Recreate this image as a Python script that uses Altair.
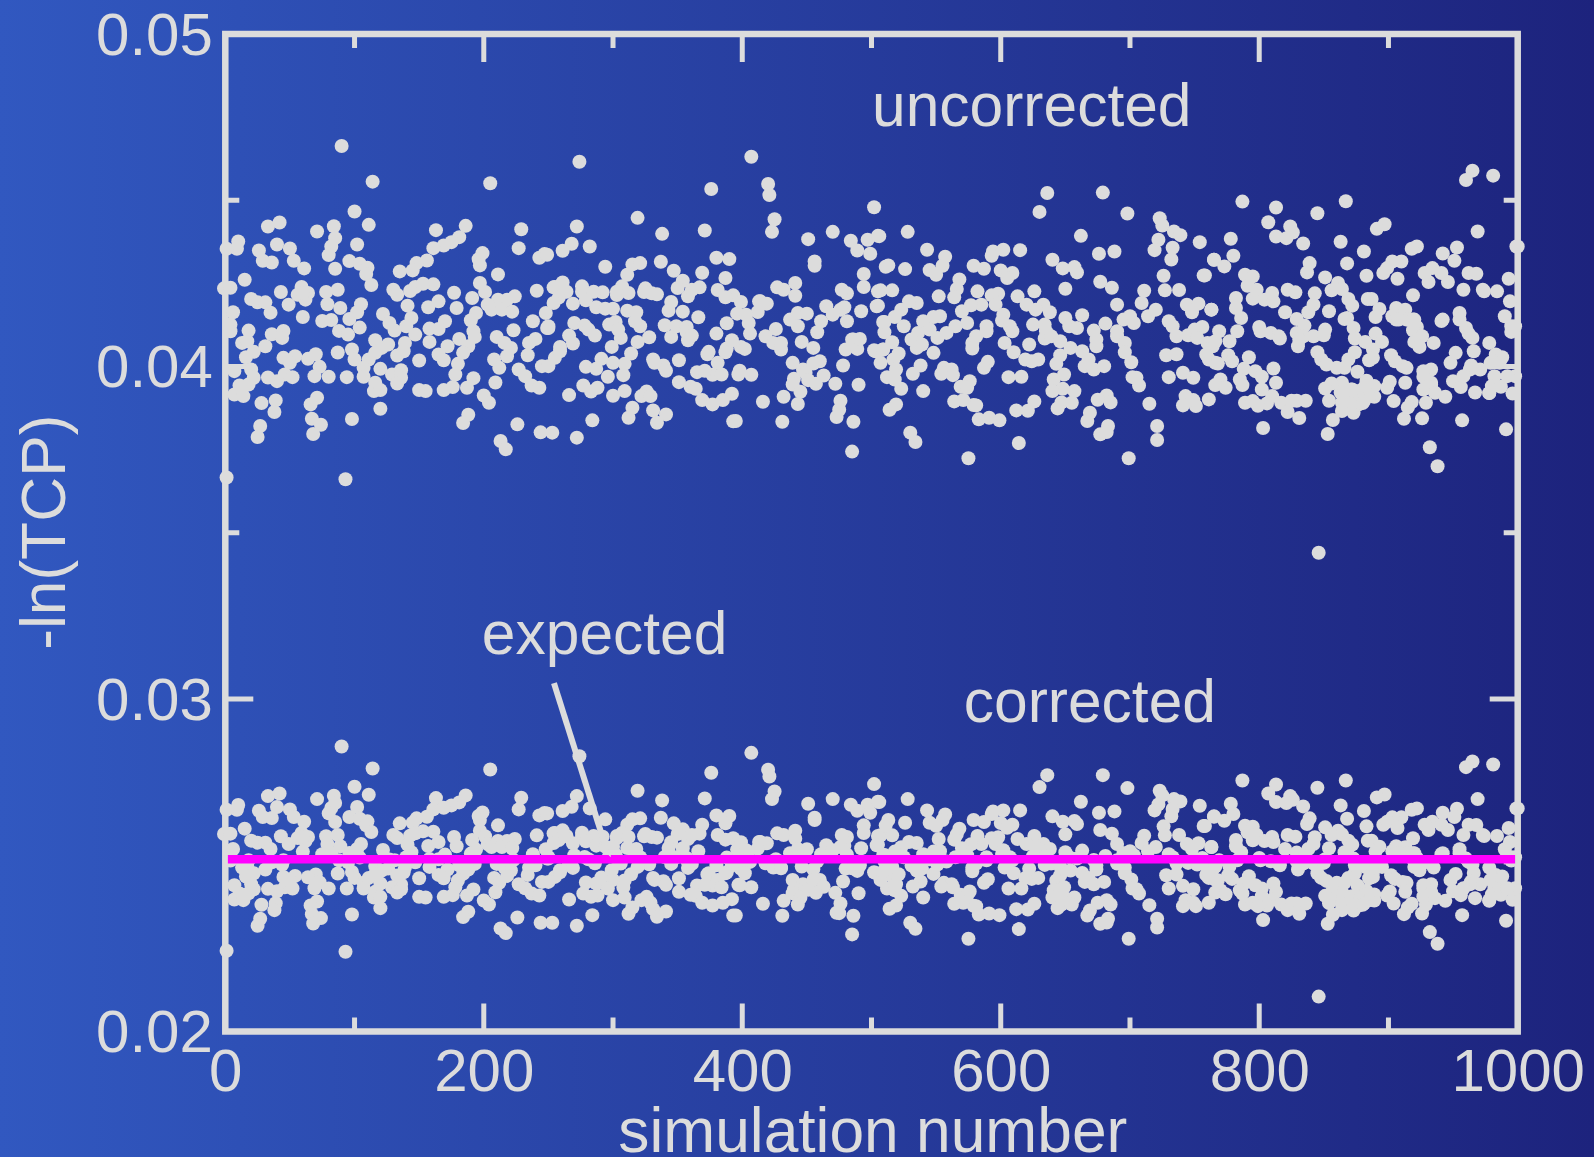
import altair as alt
import pandas as pd

# (simulation number, uncorrected, corrected), -ln(TCP) in units of 1e-5
sims_0_250 = [
(90,4663,2857),(114,4556,2791),(205,4551,2788),(100,4466,2736),(111,4426,2712),(42,4433,2716),(33,4421,2708),(71,4406,2699),
(84,4422,2709),(85,4386,2687),(82,4361,2672),(80,4335,2656),(10,4376,2681),(9,4354,2667),(1,4354,2667),(26,4349,2664),(29,4318,2645),
(36,4313,2642),(40,4367,2675),(50,4355,2668),(53,4318,2645),(61,4295,2631),(85,4294,2630),(102,4367,2675),(96,4317,2645),(104,4309,2640),
(110,4297,2632),(109,4278,2620),(113,4245,2600),(15,4261,2610),(-1,4235,2594),(4,4237,2595),(43,4224,2587),(59,4239,2597),(56,4216,2582),
(64,4221,2585),(62,4201,2573),(60,4221,2585),(78,4224,2587),(87,4231,2591),(79,4187,2564),(49,4186,2564),(20,4203,2574),(25,4193,2568),
(31,4193,2568),(35,4162,2549),(6,4163,2549),(4,4126,2527),(4,4106,2514),(18,4108,2515),(89,4176,2557),(105,4187,2564),(102,4163,2549),
(96,4143,2537),(60,4149,2541),(75,4137,2533),(82,4140,2535),(104,4117,2523),(88,4107,2515),(95,4096,2509),(36,4097,2509),(45,4107,2515),
(44,4086,2502),(13,4071,2493),(17,4076,2496),(31,4061,2487),(22,4044,2476),(16,4028,2466),(87,4042,2475),(98,4051,2480),(100,4021,2462),
(116,4079,2498),(126,4066,2490),(121,4056,2484),(116,4041,2474),(111,4021,2462),(107,3996,2447),(107,3969,2430),(45,4026,2465),(54,4031,2468),
(50,4011,2456),(70,4037,2472),(64,4023,2464),(73,3999,2448),(69,3971,2431),(80,3969,2430),(94,3968,2430),(46,3976,2434),(52,3968,2430),
(40,3956,2422),(33,3967,2429),(20,3991,2443),(22,3966,2428),(18,3946,2416),(11,3943,2415),(7,3916,2397),(14,3911,2395),(7,3986,2440),
(120,3993,2445),(116,3951,2420),(115,3926,2403),(120,3929,2405),(129,3976,2434),(136,3989,2442),(136,3966,2428),(133,3949,2418),(71,3906,2391),
(66,3886,2379),(39,3898,2386),(28,3890,2381),(38,3863,2365),(120,3873,2371),(67,3843,2353),(74,3825,2341),(98,3842,2352),(27,3821,2339),
(25,3788,2318),(68,3797,2325),(1,3666,2243),(93,3661,2240),
(163,4410,2702),(186,4423,2710),(181,4389,2689),(175,4374,2680),(169,4364,2673),(161,4356,2668),(229,4413,2703),(227,4356,2668),(199,4341,2659),
(196,4323,2648),(197,4304,2636),(247,4338,2657),(243,4327,2650),(156,4319,2646),(148,4311,2641),(145,4289,2628),(135,4286,2626),(211,4277,2620),
(197,4251,2604),(201,4224,2587),(161,4247,2601),(153,4249,2602),(147,4239,2596),(143,4227,2589),(130,4231,2591),(133,4216,2582),(177,4222,2585),
(191,4206,2576),(165,4196,2570),(157,4178,2558),(179,4176,2557),(224,4211,2579),(218,4201,2573),(211,4201,2573),(203,4186,2564),(206,4171,2555),
(214,4171,2555),(222,4165,2551),(241,4228,2590),(254,4238,2596),(141,4183,2562),(194,4161,2547),(190,4139,2535),(192,4106,2514),(144,4146,2539),
(140,4121,2524),(122,4158,2546),(127,4131,2517),(131,4108,2515),(147,4096,2509),(170,4136,2532),(165,4113,2518),(158,4114,2519),(158,4074,2495),
(238,4136,2533),(223,4109,2516),(248,4161,2548),(249,4116,2520),(250,4116,2520),(210,4089,2504),(216,4071,2493),(221,4056,2484),(240,4083,2500),
(235,4071,2493),(193,4089,2504),(181,4083,2500),(188,4061,2487),(172,4061,2487),(165,4036,2471),(169,4019,2461),(184,4041,2474),(180,4008,2454),
(178,3976,2434),(218,4031,2468),(208,4021,2462),(212,3996,2447),(227,3991,2443),(232,3971,2431),(234,4034,2471),(245,4001,2450),(255,4026,2465),
(150,4018,2461),(139,4071,2493),(138,4046,2479),(133,4033,2469),(192,3965,2427),(209,3952,2419),(150,3929,2405),(155,3926,2403),(169,3929,2405),
(176,3938,2410),(187,3936,2409),(237,3943,2415),(243,3936,2409),(200,3913,2394),(204,3891,2382),(188,3855,2360),(184,3830,2344),(226,3826,2343),
(253,3801,2327),(213,3776,2310),(217,3751,2296)]
sims_250_500 = [
(274,4616,2828),(407,4631,2838),(376,4534,2778),(420,4549,2787),(421,4516,2767),(502,4479,2744),(319,4447,2724),(425,4443,2722),(423,4405,2699),
(272,4421,2708),(338,4399,2695),(371,4409,2701),(451,4383,2685),(470,4405,2699),(268,4369,2676),(261,4348,2663),(282,4361,2671),(249,4336,2656),
(484,4378,2682),(489,4349,2664),(497,4381,2682),(505,4393,2691),(499,4339,2658),(380,4327,2650),(390,4323,2648),(337,4315,2643),(456,4316,2643),
(456,4303,2636),(294,4300,2638),(315,4307,2638),(321,4311,2641),(311,4276,2622),(347,4288,2626),(369,4282,2622),(387,4266,2626),(494,4278,2620),
(511,4300,2620),(261,4253,2605),(255,4239,2597),(264,4225,2588),(276,4241,2598),(292,4223,2586),(307,4241,2597),(303,4215,2582),(325,4235,2594),
(330,4220,2585),(427,4238,2596),(432,4231,2591),(441,4251,2604),(505,4226,2588),(494,4239,2597),(481,4220,2585),(354,4258,2608),(350,4236,2594),
(367,4238,2595),(358,4211,2579),(361,4231,2591),(381,4230,2591),(393,4214,2581),(477,4231,2591),(441,4213,2580),(387,4208,2577),(413,4196,2570),
(262,4225,2588),(258,4207,2576),(276,4225,2588),(285,4225,2588),(303,4225,2588),(312,4221,2585),(324,4224,2587),(334,4217,2583),(345,4194,2569),
(254,4191,2567),(279,4199,2572),(269,4189,2566),(399,4194,2569),(414,4196,2570),(419,4189,2566),(412,4164,2550),(465,4181,2560),(479,4178,2559),
(476,4171,2555),(504,4181,2560),(492,4166,2551),(287,4178,2559),(294,4174,2556),(300,4174,2556),(311,4168,2552),(318,4163,2549),(343,4168,2552),
(354,4165,2551),(396,4159,2547),(403,4156,2545),(366,4148,2542),(250,4121,2524),(437,4141,2536),(443,4161,2549),(450,4159,2548),(461,4136,2533),
(443,4121,2525),(481,4136,2532),(470,4156,2545),(509,4134,2531),(340,4124,2525),(349,4121,2524),(357,4119,2522),(388,4130,2523),(405,4131,2523),
(426,4113,2518),(270,4131,2530),(278,4123,2525),(297,4126,2527),(302,4134,2532),(321,4121,2524),(317,4136,2533),(286,4093,2506),(281,4111,2518),
(306,4086,2505),(304,4111,2515),(266,4093,2506),(328,4088,2503),(319,4074,2495),(345,4089,2504),(358,4079,2492),(357,4103,2516),(406,4099,2510),
(399,4059,2489),(388,4054,2479),(361,4093,2504),(380,4099,2500),(392,4079,2500),(418,4091,2506),(424,4071,2493),(430,4071,2493),(458,4103,2512),
(446,4074,2496),(430,4051,2491),(485,4081,2491),(455,4056,2488),(480,4051,2490),(489,4053,2483),(486,4081,2496),(491,4083,2500),(516,4073,2496),
(269,4069,2492),(259,4059,2485),(299,4059,2485),(314,4039,2473),(259,4046,2479),(374,4044,2476),(373,4037,2472),(387,4043,2476),(402,4053,2476),
(502,4049,2479),(509,4051,2480),(291,4023,2463),(331,4021,2462),(339,4003,2452),(332,4011,2456),(279,3999,2448),(287,3993,2445),(309,4008,2454),
(300,4011,2456),(250,4001,2450),(381,4011,2456),(397,3976,2441),(407,3975,2434),(398,3987,2440),(351,4019,2461),(439,4011,2456),(478,4003,2451),
(447,3991,2443),(460,4016,2456),(440,3963,2427),(449,3981,2436),(451,3959,2426),(455,4009,2456),(463,3973,2435),(296,3969,2430),(308,3974,2433),
(341,3987,2441),(365,3983,2439),(377,3975,2439),(384,3976,2434),(371,3987,2441),(288,3936,2409),(283,3925,2405),(326,3925,2405),(322,3911,2395),
(277,3943,2415),(309,3926,2403),(300,3912,2395),(266,3914,2397),(351,3953,2420),(360,3939,2411),(364,3933,2408),(439,3946,2416),(445,3924,2402),
(457,3948,2417),(472,3948,2417),(490,3945,2416),(329,3911,2387),(369,3899,2387),(377,3886,2379),(385,3899,2387),(392,3918,2398),(416,3894,2384),
(432,3909,2393),(443,3887,2382),(476,3897,2385),(475,3870,2356),(315,3876,2373),(312,3846,2354),(331,3868,2368),(341,3856,2361),(334,3831,2345),
(284,3838,2350),(395,3836,2349),(431,3834,2348),(473,3848,2357),(393,3835,2349),(486,3834,2348),(244,3802,2327),(272,3786,2318),(485,3744,2292)]
sims_500_750 = [
(636,4522,2771),(679,4523,2771),(630,4465,2735),(698,4460,2732),(723,4446,2724),(725,4424,2710),(734,4406,2699),(739,4395,2692),(528,4405,2699),
(506,4392,2690),(662,4393,2691),(722,4381,2683),(719,4350,2665),(733,4357,2669),(732,4322,2647),(754,4374,2679),(543,4351,2665),(557,4330,2653),
(594,4346,2662),(602,4351,2665),(615,4350,2665),(593,4333,2654),(676,4339,2658),(688,4346,2662),(765,4321,2647),(513,4304,2636),(526,4293,2628),
(545,4290,2628),(555,4303,2636),(550,4276,2619),(579,4303,2636),(587,4294,2630),(640,4321,2647),(648,4295,2631),(657,4299,2633),(659,4283,2624),
(600,4289,2627),(609,4281,2622),(605,4266,2613),(757,4274,2618),(726,4273,2617),(568,4262,2610),(566,4233,2593),(677,4255,2606),(686,4237,2595),
(650,4234,2593),(727,4229,2590),(738,4230,2591),(711,4228,2589),(507,4229,2590),(516,4229,2590),(552,4211,2579),(564,4208,2577),(582,4226,2588),
(598,4219,2584),(593,4214,2581),(596,4186,2564),(613,4211,2579),(626,4226,2588),(535,4191,2567),(529,4196,2570),(523,4171,2554),(505,4183,2562),
(620,4186,2564),(633,4186,2564),(627,4171,2555),(638,4163,2549),(690,4186,2564),(709,4191,2567),(720,4171,2555),(714,4151,2542),(744,4186,2564),
(753,4189,2566),(748,4163,2549),(763,4171,2555),(585,4186,2564),(577,4184,2563),(570,4166,2551),(553,4151,2542),(548,4149,2541),(602,4156,2545),
(601,4138,2534),(663,4154,2544),(650,4146,2539),(653,4121,2524),(659,4116,2520),(634,4126,2527),(681,4129,2528),(672,4108,2516),(700,4151,2542),
(695,4141,2536),(730,4136,2533),(733,4121,2524),(510,4134,2531),(518,4149,2541),(510,4103,2512),(525,4121,2524),(540,4136,2533),(565,4121,2524),
(558,4101,2511),(574,4131,2530),(589,4121,2524),(607,4121,2524),(609,4106,2515),(625,4126,2527),(635,4106,2515),(690,4106,2515),(703,4131,2530),
(756,4119,2522),(750,4111,2518),(745,4094,2507),(589,4106,2515),(581,4091,2505),(578,4071,2493),(578,4054,2482),(536,4101,2511),(531,4081,2499),
(551,4086,2502),(545,4111,2518),(539,4066,2490),(548,4041,2474),(535,4056,2484),(603,4071,2493),(610,4043,2476),(622,4066,2490),(634,4084,2501),
(639,4091,2505),(646,4076,2496),(654,4056,2484),(674,4081,2499),(674,4061,2487),(690,4091,2505),(696,4071,2493),(696,4043,2476),(736,4091,2505),
(760,4071,2493),(752,4086,2502),(764,4061,2487),(509,4051,2480),(503,4046,2477),(521,4039,2473),(517,4021,2462),(507,4011,2456),(663,4046,2477),
(668,4021,2462),(728,4034,2470),(736,4037,2472),(629,4021,2462),(624,4016,2459),(619,4021,2462),(646,4034,2470),(643,4008,2454),(761,4021,2462),
(766,4011,2456),(701,4013,2457),(590,4014,2458),(587,3996,2447),(538,4003,2451),(532,3978,2436),(519,3991,2443),(512,3968,2430),(518,3961,2425),
(556,3996,2447),(562,3991,2443),(554,3978,2436),(563,3974,2434),(665,4001,2450),(672,3991,2443),(680,4001,2450),(616,3969,2430),(606,3968,2430),
(649,3976,2434),(641,3961,2425),(705,3966,2428),(741,3981,2438),(749,3966,2428),(576,3956,2421),(569,3939,2411),(523,3933,2408),(540,3926,2403),
(648,3933,2408),(657,3926,2403),(702,3968,2430),(707,3943,2415),(730,3968,2430),(574,3936,2409),(640,3926,2403),(682,3913,2395),(685,3892,2382),
(743,3911,2395),(751,3881,2377),(571,3899,2387),(579,3884,2378),(647,3892,2382),(581,3883,2377),(655,3891,2382),(749,3899,2387),(741,3883,2377),
(564,3895,2384),(626,3895,2384),(675,3900,2387),(715,3888,2380),(519,3886,2379),(514,3870,2369),(644,3874,2371),(612,3868,2368),(621,3867,2367),
(669,3861,2364),(667,3836,2349),(583,3841,2352),(591,3846,2355),(599,3838,2350),(683,3821,2339),(677,3796,2324),(682,3803,2328),(721,3821,2339),
(721,3779,2313),(530,3801,2327),(534,3773,2309),(614,3770,2308),(575,3724,2279),(699,3724,2279)]
sims_750_1000 = [
(965,4589,2812),(960,4561,2795),(981,4574,2803),(787,4496,2755),(867,4497,2755),(813,4478,2743),(845,4461,2733),(807,4434,2716),(824,4421,2708),
(826,4403,2697),(813,4391,2690),(821,4386,2687),(834,4370,2677),(897,4428,2713),(891,4414,2704),(969,4406,2699),(778,4384,2685),(863,4375,2680),
(922,4361,2671),(918,4354,2667),(953,4358,2670),(999,4361,2671),(780,4333,2654),(765,4321,2646),(773,4301,2634),(942,4340,2658),(951,4318,2645),
(881,4346,2663),(839,4311,2641),(837,4283,2624),(868,4310,2640),(910,4316,2644),(903,4316,2644),(896,4281,2622),(899,4296,2631),(789,4276,2619),
(795,4271,2616),(791,4243,2599),(798,4231,2591),(851,4268,2614),(861,4251,2604),(856,4229,2591),(864,4233,2593),(883,4273,2617),(907,4264,2612),
(934,4296,2631),(928,4281,2622),(941,4281,2622),(931,4254,2606),(946,4254,2606),(962,4281,2622),(968,4279,2621),(993,4264,2612),(758,4274,2618),
(782,4206,2576),(795,4204,2575),(804,4201,2573),(810,4221,2585),(811,4196,2570),(822,4231,2591),(828,4223,2586),(843,4220,2584),(919,4214,2581),
(958,4231,2591),(973,4231,2591),(974,4226,2588),(984,4226,2588),(994,4196,2570),(869,4203,2574),(884,4203,2574),(782,4176,2557),(842,4186,2564),
(838,4163,2549),(854,4166,2551),(820,4163,2549),(786,4146,2539),(763,4171,2555),(887,4203,2574),(906,4176,2557),(913,4171,2554),(872,4183,2562),
(893,4173,2556),(866,4143,2539),(868,4146,2539),(920,4141,2536),(915,4141,2536),(903,4151,2542),(890,4149,2541),(906,4141,2537),(914,4141,2536),
(955,4161,2548),(922,4119,2522),(941,4137,2533),(908,4141,2536),(919,4141,2536),(942,4141,2536),(955,4141,2536),(990,4151,2548),(995,4121,2524),
(960,4116,2520),(998,4121,2524),(829,4143,2538),(835,4123,2526),(829,4101,2512),(769,4106,2515),(783,4106,2515),(800,4119,2522),(801,4106,2515),
(809,4101,2512),(815,4091,2505),(851,4111,2518),(766,4076,2496),(777,4076,2496),(816,4084,2500),(834,4091,2505),(873,4116,2520),(890,4099,2510),
(882,4074,2495),(874,4084,2500),(895,4074,2495),(919,4109,2518),(926,4091,2505),(935,4071,2493),(962,4099,2510),(965,4086,2502),(978,4071,2493),
(995,4104,2514),(920,4074,2495),(924,4059,2485),(831,4081,2499),(830,4061,2487),(842,4091,2505),(850,4094,2507),(888,4051,2480),(888,4026,2465),
(885,4019,2461),(845,4043,2476),(848,4021,2462),(874,4043,2476),(869,4021,2462),(759,4036,2471),(776,4034,2470),(779,4016,2459),(768,4009,2455),
(792,4028,2467),(902,4034,2470),(905,4016,2459),(911,4001,2450),(914,3996,2447),(952,4041,2474),(966,4046,2477),(983,4036,2471),(988,4028,2466),
(979,4011,2456),(986,4011,2456),(948,4011,2456),(964,4003,2451),(971,3991,2443),(852,4006,2453),(860,3996,2447),(866,3996,2447),(811,3994,2445),
(788,3993,2445),(797,3986,2440),(802,3969,2430),(785,3961,2425),(933,3991,2443),(927,3986,2440),(927,3969,2430),(876,3984,2439),(883,3957,2423),
(889,3941,2412),(933,3951,2420),(864,3951,2420),(901,3954,2421),(913,3951,2420),(933,3946,2416),(963,3991,2443),(982,3971,2431),(980,3941,2412),
(813,3951,2420),(770,3961,2425),(787,3944,2415),(802,3931,2407),(856,3949,2418),(851,3934,2408),(863,3922,2402),(877,3926,2404),(885,3912,2396),
(889,3909,2394),(950,3956,2422),(933,3936,2409),(987,3939,2411),(944,3909,2393),(967,3922,2401),(956,3938,2410),(872,3931,2406),(836,3897,2385),
(810,3911,2396),(806,3889,2379),(817,3891,2382),(829,3897,2385),(899,3936,2409),(996,3919,2396),(929,3891,2382),(918,3893,2384),(927,3931,2406),
(958,3971,2431),(936,3921,2401),(915,3877,2373),(871,3931,2406),(878,3917,2399),(883,3910,2394),(882,3941,2412),(885,3911,2395),(766,3944,2418),
(774,3936,2413),(761,3901,2387),(978,3920,2393),(998,3971,2431),(1000,4361,2671),(978,3920,2395),(992,3971,2431),(873,3861,2364),(854,3897,2386),
(871,3908,2392),(877,3886,2379),(865,3921,2401),(871,3891,2382),(864,3891,2382),(871,3886,2379),(789,3891,2382),(795,3896,2387),(799,3882,2377),
(825,3897,2385),(822,3863,2365),(831,3845,2354),(864,3866,2365),(857,3839,2351),(912,3843,2353),(926,3844,2355),(957,3838,2350),(904,3896,2385),
(881,3896,2385),(880,3890,2381),(803,3815,2335),(991,3811,2333),(853,3797,2324),(932,3757,2299),(938,3700,2264),(846,3440,2105)]
rows = pd.DataFrame(sims_0_250 + sims_500_750 + sims_250_500 + sims_750_1000, columns=["sim", "u", "c"])
rows["u"] /= 1e5
rows["c"] /= 1e5

W, H = 1292.4, 997.5
FG = "#dcdcdc"
FONT = "Liberation Sans"
xs = alt.Scale(domain=[0, 1000], nice=False, zero=False)
ys = alt.Scale(domain=[0.02, 0.05], nice=False, zero=False)

x_major = [0, 200, 400, 600, 800, 1000]
x_minor = [100, 300, 500, 700, 900]
y_major = [0.02, 0.03, 0.04, 0.05]
y_minor = [0.0251, 0.035, 0.045]

xax = alt.Axis(values=x_major, format="d", title="simulation number", domain=False, ticks=False, grid=False,
    labelFontSize=60, labelFont=FONT, labelColor=FG, labelPadding=12, labelFlush=False, labelOverlap=False, zindex=1,
    titleFontSize=62.3, titleFont=FONT, titleColor=FG, titleFontWeight="normal", titleY=119.5, titleX=647, titleAlign="center", titleBaseline="alphabetic")
yax = alt.Axis(values=y_major, format=".2f", title="-ln(TCP)", domain=False, ticks=False, grid=False,
    labelFontSize=60, labelFont=FONT, labelColor=FG, labelPadding=13, labelOffset=2, labelOverlap=False, labelFlush=False, zindex=1,
    titleFontSize=62.3, titleFont=FONT, titleColor=FG, titleFontWeight="normal", titleX=-161, titleY=497.7, titleAlign="center", titleBaseline="alphabetic")

def X(f):
    return alt.X(f, type="quantitative", scale=xs, axis=xax)

def Y(f):
    return alt.Y(f, type="quantitative", scale=ys, axis=yax)

bg = alt.Chart(pd.DataFrame({"a": [0]})).mark_rect(
    color=alt.Gradient(gradient="linear", x1=0, x2=1, y1=0, y2=0,
        stops=[alt.GradientStop(color="#3158c0", offset=0), alt.GradientStop(color="#1d237d", offset=1)])
).encode(x=alt.value(-226), x2=alt.value(1369), y=alt.value(-35), y2=alt.value(1124))

frame = alt.Chart(pd.DataFrame({"x": [0], "x2": [1000], "y": [0.02], "y2": [0.05]})).mark_rect(
    filled=False, stroke=FG, strokeWidth=6.5
).encode(x=X("x"), x2="x2:Q", y=Y("y"), y2="y2:Q")

def xticks(vals, n):
    base = alt.Chart(pd.DataFrame({"x": vals})).mark_rule(color=FG, strokeWidth=5)
    return [base.encode(x=X("x"), y=alt.value(H), y2=alt.value(H - n)),
            base.encode(x=X("x"), y=alt.value(0), y2=alt.value(n))]

def yticks(vals, n):
    base = alt.Chart(pd.DataFrame({"y": vals})).mark_rule(color=FG, strokeWidth=5)
    return [base.encode(y=Y("y"), x=alt.value(0), x2=alt.value(n)),
            base.encode(y=Y("y"), x=alt.value(W), x2=alt.value(W - n))]

ticks = xticks(x_major, 28) + xticks(x_minor, 14) + yticks(y_major, 28) + yticks(y_minor, 14)

pts_u = alt.Chart(rows).mark_circle(color=FG, size=196, opacity=1).encode(x=X("sim"), y=Y("u"))
pts_c = alt.Chart(rows).mark_circle(color=FG, size=196, opacity=1).encode(x=X("sim"), y=Y("c"))

expected = alt.Chart(pd.DataFrame({"x": [2], "x2": [998], "y": [0.02518]})).mark_rule(color="#ff00ff", strokeWidth=8.7).encode(
    x=X("x"), x2="x2:Q", y=Y("y"))

arrow = alt.Chart(pd.DataFrame({"x": [254.3], "x2": [293.5], "y": [0.03048], "y2": [0.02565]})).mark_rule(color=FG, strokeWidth=6).encode(
    x=X("x"), x2="x2:Q", y=Y("y"), y2="y2:Q")
tip = alt.Chart(pd.DataFrame({"x": [295.5], "y": [0.02535]})).mark_point(
    shape="M-1,-1L1,-1L1,1Z", filled=True, color=FG, opacity=1, size=50, strokeWidth=0
).encode(x=X("x"), y=Y("y"))

labels = pd.DataFrame({"t": ["uncorrected", "corrected", "expected"], "x": [500.4, 571.4, 198.5], "y": [0.04723, 0.02931, 0.03135]})
txt = alt.Chart(labels).mark_text(font=FONT, fontSize=60.5, color=FG, align="left", baseline="alphabetic").encode(
    x=X("x"), y=Y("y"), text="t:N")

chart = alt.layer(bg, frame, *ticks, pts_u, pts_c, expected, arrow, tip, txt).properties(
    width=W, height=H, background="transparent",
    padding={"left": 225.3, "top": 34, "right": 76.3, "bottom": 125.5},
    autosize=alt.AutoSizeParams(type="none"),
).configure_view(stroke=None)

chart.save("out.html", embed_options={"renderer": "svg", "actions": False, "defaultStyle": "html,body{margin:0;overflow:hidden}"})
